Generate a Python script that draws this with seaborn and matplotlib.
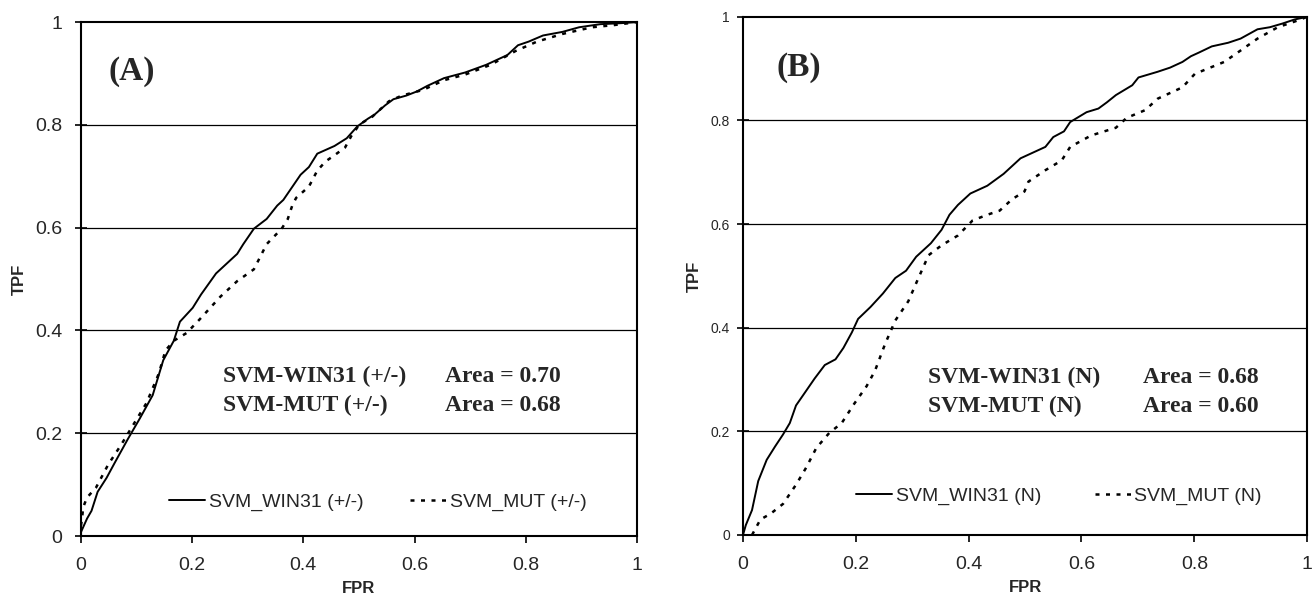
import numpy as np
import pandas as pd
import matplotlib
matplotlib.use('Agg')
import matplotlib.pyplot as plt
import seaborn as sns

# panel A: SVM_WIN31 (+/-) and SVM_MUT (+/-)
a_win_fpr = [0, 0, 0.011, 0.019, 0.030, 0.046, 0.061, 0.084, 0.106, 0.129, 0.148, 0.167, 0.178, 0.201,
             0.216, 0.243, 0.266, 0.281, 0.292, 0.311, 0.334, 0.353, 0.364, 0.395, 0.410, 0.425, 0.456,
             0.478, 0.497, 0.516, 0.528, 0.547, 0.562, 0.585, 0.604, 0.623, 0.653, 0.691, 0.729, 0.767,
             0.786, 0.805, 0.831, 0.866, 0.896, 0.934, 0.972, 1.0]
a_win_tpf = [0, 0.015, 0.034, 0.049, 0.086, 0.113, 0.143, 0.188, 0.229, 0.274, 0.342, 0.380, 0.417, 0.444,
             0.470, 0.511, 0.534, 0.549, 0.568, 0.598, 0.617, 0.643, 0.654, 0.703, 0.718, 0.744, 0.759,
             0.774, 0.797, 0.812, 0.820, 0.838, 0.850, 0.857, 0.865, 0.876, 0.891, 0.902, 0.917, 0.936,
             0.955, 0.962, 0.974, 0.981, 0.990, 0.996, 0.998, 1.0]
a_mut_fpr = [0, 0.002, 0.004, 0.011, 0.027, 0.049, 0.072, 0.095, 0.118, 0.140, 0.152, 0.167, 0.190, 0.213,
             0.235, 0.251, 0.281, 0.311, 0.334, 0.361, 0.372, 0.380, 0.387, 0.410, 0.425, 0.440, 0.456,
             0.475, 0.486, 0.501, 0.524, 0.554, 0.577, 0.615, 0.653, 0.691, 0.737, 0.782, 0.820, 0.866,
             0.919, 0.957, 1.0]
a_mut_tpf = [0.02, 0.034, 0.056, 0.075, 0.094, 0.139, 0.177, 0.218, 0.259, 0.316, 0.361, 0.380, 0.395, 0.421,
             0.447, 0.466, 0.496, 0.519, 0.568, 0.598, 0.617, 0.643, 0.658, 0.680, 0.711, 0.729, 0.741,
             0.756, 0.778, 0.801, 0.816, 0.846, 0.857, 0.868, 0.887, 0.898, 0.917, 0.944, 0.962, 0.977,
             0.990, 0.994, 1.0]

# panel B: SVM_WIN31 (N) and SVM_MUT (N)
b_win_fpr = [0, 0.005, 0.016, 0.027, 0.042, 0.057, 0.071, 0.083, 0.094, 0.108, 0.127, 0.145, 0.164, 0.178,
             0.193, 0.204, 0.226, 0.248, 0.270, 0.289, 0.307, 0.333, 0.352, 0.366, 0.381, 0.403, 0.433,
             0.462, 0.492, 0.536, 0.550, 0.569, 0.580, 0.609, 0.630, 0.645, 0.661, 0.690, 0.701, 0.735,
             0.757, 0.779, 0.794, 0.808, 0.831, 0.860, 0.882, 0.912, 0.934, 0.956, 0.978, 1.0]
b_win_tpf = [0, 0.019, 0.048, 0.104, 0.145, 0.171, 0.194, 0.216, 0.250, 0.272, 0.302, 0.328, 0.339, 0.361,
             0.391, 0.417, 0.440, 0.466, 0.496, 0.510, 0.537, 0.563, 0.589, 0.618, 0.637, 0.659, 0.674,
             0.697, 0.727, 0.749, 0.768, 0.779, 0.797, 0.816, 0.823, 0.835, 0.849, 0.868, 0.883, 0.894,
             0.902, 0.913, 0.924, 0.931, 0.943, 0.950, 0.958, 0.976, 0.980, 0.987, 0.995, 1.0]
b_mut_fpr = [0.016, 0.031, 0.049, 0.071, 0.094, 0.112, 0.130, 0.153, 0.175, 0.197, 0.219, 0.234, 0.252,
             0.270, 0.293, 0.311, 0.329, 0.352, 0.381, 0.407, 0.433, 0.455, 0.477, 0.499, 0.506, 0.536,
             0.565, 0.580, 0.617, 0.661, 0.680, 0.713, 0.735, 0.779, 0.801, 0.853, 0.882, 0.912, 0.948,
             0.978, 1.0]
b_mut_tpf = [0.0, 0.030, 0.041, 0.060, 0.097, 0.130, 0.168, 0.197, 0.216, 0.253, 0.287, 0.317, 0.369,
             0.414, 0.451, 0.496, 0.540, 0.559, 0.578, 0.607, 0.618, 0.626, 0.648, 0.663, 0.682, 0.704,
             0.723, 0.749, 0.771, 0.786, 0.805, 0.820, 0.842, 0.864, 0.890, 0.913, 0.935, 0.958, 0.980,
             0.991, 1.0]

ticks = [0, 0.2, 0.4, 0.6, 0.8, 1]
tick_labels = ['0', '0.2', '0.4', '0.6', '0.8', '1']

sns.set_style('white')
plt.rcParams['font.family'] = ['Liberation Sans', 'DejaVu Sans']

fig = plt.figure(figsize=(13.12, 6.06), dpi=100)
axA = fig.add_axes([0.0617, 0.1155, 0.4238, 0.848])
axB = fig.add_axes([0.5663, 0.1172, 0.4300, 0.855])

# ax, data, legend labels, tag + x, annotation lines, text x positions, text y positions,
# ytick size, ytick pad, legend centre, legend column spacing
panels = [
    (axA, a_win_fpr, a_win_tpf, a_mut_fpr, a_mut_tpf, 'SVM_WIN31 (+/-)', 'SVM_MUT (+/-)',
     '(A)', 0.049, ['SVM-WIN31 (+/-)', 'SVM-MUT (+/-)'], ['Area = 0.70', 'Area = 0.68'],
     0.255, 0.655, [0.300, 0.243], 14, 9, (0.534, 0.066), 2.4),
    (axB, b_win_fpr, b_win_tpf, b_mut_fpr, b_mut_tpf, 'SVM_WIN31 (N)', 'SVM_MUT (N)',
     '(B)', 0.060, ['SVM-WIN31 (N)', 'SVM-MUT (N)'], ['Area = 0.68', 'Area = 0.60'],
     0.328, 0.709, [0.293, 0.237], 10, 5, (0.56, 0.075), 2.75),
]

for (ax, wx, wy, mx, my, lw_lab, lm_lab, tag, tagx, names, areas, nx, axx, ys,
     ysize, ypad, legpos, colsp) in panels:
    for y in [0.2, 0.4, 0.6, 0.8]:
        ax.axhline(y, color='black', lw=0.9, zorder=0)
    sns.lineplot(x=wx, y=wy, ax=ax, color='black', lw=1.4, label=lw_lab, sort=False)
    sns.lineplot(x=mx, y=my, ax=ax, color='black', lw=1.8, label=lm_lab, sort=False,
                 linestyle=(0, (1.6, 2.6)))
    ax.set_xlim(0, 1)
    ax.set_ylim(0, 1)
    ax.set_xticks(ticks)
    ax.set_xticklabels(tick_labels, fontsize=14)
    ax.set_yticks(ticks)
    ax.set_yticklabels(tick_labels, fontsize=ysize)
    ax.tick_params(axis='x', direction='out', length=5, width=1.2, color='black', bottom=True, pad=10)
    ax.tick_params(axis='y', direction='inout', length=9, width=1.2, color='black', left=True, pad=ypad)
    for sp in ax.spines.values():
        sp.set_color('black')
        sp.set_linewidth(1.5)
    ax.set_xlabel('FPR', fontsize=12, fontweight='bold', labelpad=5)
    ax.set_ylabel('TPF', fontsize=12, fontweight='bold', labelpad=6)
    ax.text(tagx, 0.903, tag, fontsize=24, fontweight='bold', family='Liberation Serif',
            va='center', ha='left')
    for i, yy in enumerate(ys):
        ax.text(nx, yy, names[i], fontsize=17, fontweight='bold', family='Liberation Serif',
                va='baseline', ha='left')
        ax.text(axx, yy, areas[i], fontsize=17, fontweight='bold', family='Liberation Serif',
                va='baseline', ha='left')
    ax.legend(loc='center', bbox_to_anchor=legpos, ncol=2, frameon=False, fontsize=14,
              handlelength=1.85, handletextpad=0.2, columnspacing=colsp)

fig.savefig('out.png', dpi=100)
